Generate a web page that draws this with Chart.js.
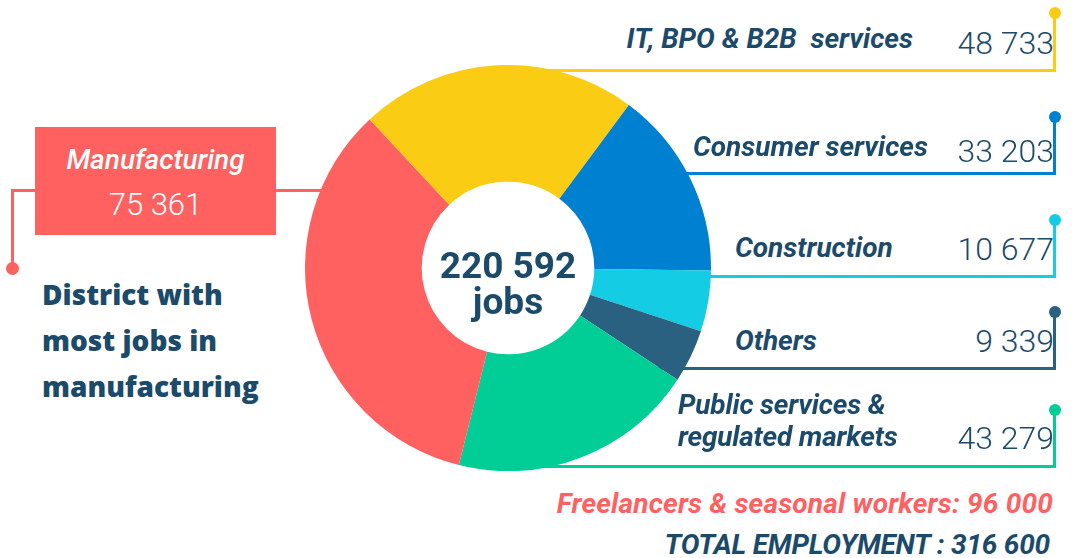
<!DOCTYPE html>
<html lang="en">
<head>
  <meta charset="UTF-8">
  <title>Jobs by sector</title>
  <script src="https://cdn.jsdelivr.net/npm/chart.js"></script>
  <style>
    body {
      margin: 0;
      width: 1085px;
      height: 558px;
      background: #ffffff;
      font-family: 'Roboto', sans-serif;
      position: relative;
      overflow: hidden;
      color: #1b4a6b;
    }

    .ln { position: absolute; z-index: 0; }
    .dot { position: absolute; border-radius: 50%; z-index: 0; }

    #chartBox {
      position: absolute;
      left: 305px;
      top: 65px;
      width: 406px;
      height: 406px;
      z-index: 1;
    }

    .lbl, .foot {
      position: absolute;
      z-index: 2;
      font-weight: 700;
      font-style: italic;
      font-size: 28px;
      white-space: nowrap;
      line-height: 1;
    }

    .num {
      position: absolute;
      z-index: 2;
      right: 31px;
      font-weight: 300;
      font-size: 32px;
      line-height: 1;
      color: #1b4a6b;
    }

    #center {
      position: absolute;
      z-index: 2;
      left: 408px;
      width: 200px;
      top: 248px;
      text-align: center;
      font-weight: 700;
      font-size: 37px;
      line-height: 36px;
    }

    #manuBox {
      position: absolute;
      z-index: 2;
      left: 35px;
      top: 127px;
      width: 241px;
      height: 108px;
      background: #ff6060;
      color: #fff;
      text-align: center;
    }
    #manuBox div { position: absolute; left: 0; width: 100%; line-height: 1; }
    #manuBox .t { top: 19px; font-style: italic; font-weight: 500; font-size: 28px; }
    #manuBox .v { top: 62px; font-weight: 300; font-size: 31px; }

    #district {
      position: absolute;
      z-index: 2;
      left: 42px;
      top: 271px;
      font-family: 'Open Sans', sans-serif;
      font-weight: 800;
      font-size: 28px;
      line-height: 46px;
    }

    .foot { right: 32px; }
  </style>
</head>
<body>
  <!-- connector lines, behind the doughnut -->
  <div class="ln" style="left:530px;top:69px;width:526px;height:3px;background:#facc14"></div>
  <div class="ln" style="left:1053px;top:13px;width:3px;height:59px;background:#facc14"></div>
  <div class="dot" style="left:1049px;top:7px;width:12px;height:12px;background:#facc14"></div>

  <div class="ln" style="left:600px;top:172px;width:456px;height:3px;background:#0080d0"></div>
  <div class="ln" style="left:1053px;top:117px;width:3px;height:58px;background:#0080d0"></div>
  <div class="dot" style="left:1049px;top:111px;width:12px;height:12px;background:#0080d0"></div>

  <div class="ln" style="left:690px;top:275px;width:366px;height:3px;background:#14cce4"></div>
  <div class="ln" style="left:1053px;top:220px;width:3px;height:58px;background:#14cce4"></div>
  <div class="dot" style="left:1049px;top:214px;width:12px;height:12px;background:#14cce4"></div>

  <div class="ln" style="left:650px;top:367px;width:406px;height:3px;background:#2a6080"></div>
  <div class="ln" style="left:1053px;top:312px;width:3px;height:58px;background:#2a6080"></div>
  <div class="dot" style="left:1049px;top:306px;width:12px;height:12px;background:#2a6080"></div>

  <div class="ln" style="left:480px;top:465px;width:576px;height:3px;background:#00ce96"></div>
  <div class="ln" style="left:1053px;top:410px;width:3px;height:58px;background:#00ce96"></div>
  <div class="dot" style="left:1049px;top:404px;width:12px;height:12px;background:#00ce96"></div>

  <div class="ln" style="left:11px;top:189px;width:320px;height:3px;background:#ff6060"></div>
  <div class="ln" style="left:11px;top:189px;width:3px;height:80px;background:#ff6060"></div>
  <div class="dot" style="left:6px;top:262px;width:13px;height:13px;background:#ff6060"></div>

  <div id="chartBox"><canvas id="jobsChart" width="406" height="406"></canvas></div>

  <div id="center">220 592<br>jobs</div>

  <div id="manuBox">
    <div class="t">Manufacturing</div>
    <div class="v">75 361</div>
  </div>

  <div id="district">District with<br>most jobs in<br>manufacturing</div>

  <div class="lbl" style="right:172px;top:25px">IT, BPO &amp; B2B&nbsp; services</div>
  <div class="num" style="top:27px">48 733</div>

  <div class="lbl" style="right:157px;top:133px">Consumer services</div>
  <div class="num" style="top:135px">33 203</div>

  <div class="lbl" style="left:735px;top:234px">Construction</div>
  <div class="num" style="top:233px">10 677</div>

  <div class="lbl" style="left:735px;top:327px">Others</div>
  <div class="num" style="top:325px">9 339</div>

  <div class="lbl" style="left:678px;top:389px;line-height:32px;letter-spacing:-0.2px">Public services &amp;<br>regulated markets</div>
  <div class="num" style="top:422px">43 279</div>

  <div class="foot" style="top:490px;color:#ff6060;letter-spacing:0.2px">Freelancers &amp; seasonal workers: 96 000</div>
  <div class="foot" style="top:531px;right:35px;letter-spacing:-0.2px">TOTAL EMPLOYMENT : 316 600</div>

  <script>
    // sectors, clockwise from the top-left
    const sectors = ['IT, BPO & B2B services', 'Consumer services', 'Construction', 'Others', 'Public services & regulated markets', 'Manufacturing'];
    const jobs = [48733, 33203, 10677, 9339, 43279, 75361];
    const colors = ['#facc14', '#0080d0', '#14cce4', '#2a6080', '#00ce96', '#ff6060'];

    new Chart(document.getElementById('jobsChart'), {
      type: 'doughnut',
      data: {
        labels: sectors,
        datasets: [{
          data: jobs,
          backgroundColor: colors,
          borderWidth: 0
        }]
      },
      options: {
        responsive: false,
        animation: false,
        cutout: '42.5%',
        rotation: -43,
        layout: { padding: 0 },
        plugins: {
          legend: { display: false },
          tooltip: { enabled: false }
        }
      }
    });
  </script>
</body>
</html>
